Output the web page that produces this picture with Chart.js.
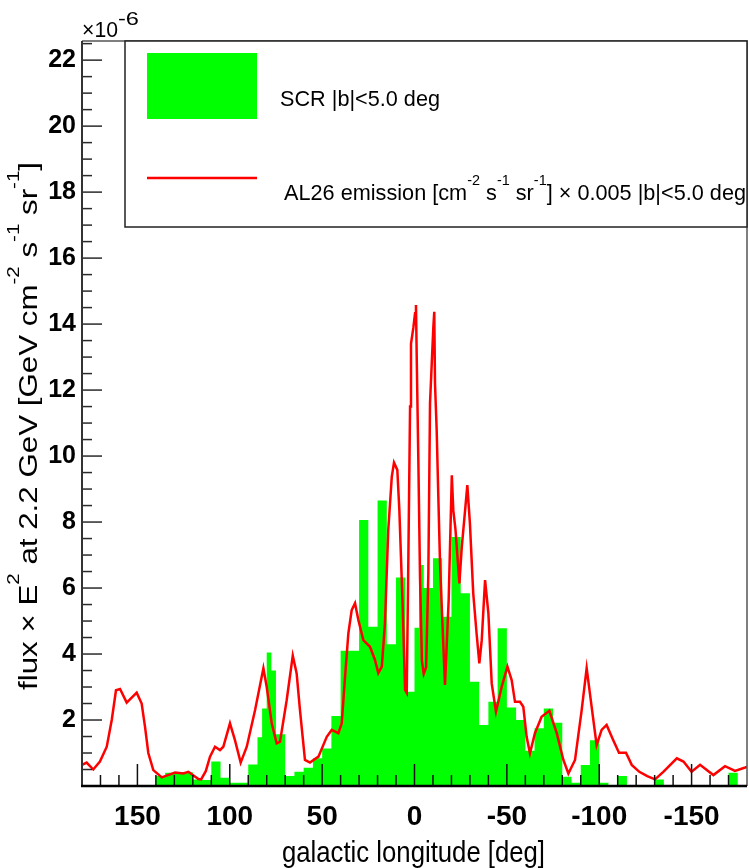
<!DOCTYPE html>
<html>
<head>
<meta charset="utf-8">
<script src="https://cdn.jsdelivr.net/npm/chart.js@4.4.4/dist/chart.umd.min.js"></script>
<style>
  html, body { margin: 0; padding: 0; background: #fff; }
  #wrap { width: 749px; height: 868px; }
</style>
</head>
<body>
<div id="wrap"><canvas id="chart" width="749" height="868"></canvas></div>
<script>
// --- data -------------------------------------------------------------------

// AL26 emission x 0.005, |b|<5 deg (fine profile, longitude in deg)
const LON_AL26 = [
  180, 177.5, 173.9, 170.3, 166.6, 163.9, 161.6, 159.4, 155.8, 150.4,
  147.7, 145.9, 144.1, 141.4, 136.8, 129.6, 125.2, 122.4, 117, 115.5,
  113, 110.7, 108, 105.3, 103.5, 99.9, 97.2, 94.1, 90.8, 86.3,
  81.8, 80, 77.3, 74.6, 72.8, 69.2, 65.9, 63.8, 62, 59.3,
  56.6, 52, 47.5, 44.8, 41.2, 39.4, 37.6, 35.8, 34, 32.2,
  30.4, 27.7, 24.1, 21.4, 19.6, 17.7, 16, 14.2, 12.3, 11.1,
  9.3, 8.2, 6.4, 5.1, 4.2, 3.3, 2.4, 1.9, 0.6, -0.3,
  -0.8, -1.2, -2.1, -3.0, -4.0, -5.0, -6.3, -7.5, -8.4, -9.3,
  -10.2, -10.7, -11.1, -12.0, -12.9, -13.8, -14.7, -16.5, -18.5, -20.2,
  -21, -22.2, -24.3, -25.6, -27.4, -28.6, -30, -31.8, -33.6, -35.1,
  -36.4, -38.2, -40, -41.8, -44.1, -47.2, -50.3, -52.6, -54.4, -57.1,
  -58.9, -60.7, -62.5, -65.2, -68.8, -73, -77, -80.6, -83.3, -86.9,
  -90.5, -93.2, -95.9, -98.6, -101.3, -104, -107.6, -110.7, -114.5, -117.6,
  -121.7, -126, -130.2, -134.7, -142, -145.6, -150, -154.6, -161.8, -168.1,
  -173.5, -179, -180
];
const FLUX_AL26 = [
  0.64, 0.71, 0.5, 0.74, 1.19, 2.0, 2.9, 2.94, 2.53, 2.83,
  2.5, 1.8, 1.0, 0.48, 0.26, 0.41, 0.38, 0.43, 0.21, 0.2,
  0.45, 0.89, 1.19, 1.09, 1.19, 1.9, 1.39, 0.71, 1.19, 2.3,
  3.57, 3.0, 1.9, 1.29, 1.34, 2.6, 3.95, 3.41, 2.3, 0.79,
  0.71, 0.89, 1.49, 1.7, 1.6, 1.9, 3.31, 4.63, 5.33, 5.54,
  5.03, 4.42, 4.22, 3.82, 3.42, 3.62, 4.93, 7.76, 9.37, 9.8,
  9.58, 8.36, 5.43, 2.91, 2.82, 7.0, 11.5, 13.4, 13.9, 14.33,
  14.58, 13.0, 9.8, 6.3, 3.8, 3.4, 3.6, 6.45, 11.6, 12.76,
  13.9, 14.37, 12.2, 10.8, 8.77, 6.8, 5.5, 3.06, 5.64, 9.42,
  8.36, 7.76, 6.14, 7.25, 8.36, 9.12, 7.96, 5.84, 4.63, 3.72,
  4.42, 6.24, 5.23, 3.11, 2.25, 3.01, 3.62, 3.21, 2.55, 2.55,
  2.4, 1.49, 0.99, 1.6, 2.1, 2.28, 1.6, 0.79, 0.38, 0.79,
  2.3, 3.57, 2.4, 1.24, 1.7, 1.85, 1.39, 1.01, 1.01, 0.64,
  0.43, 0.3, 0.2, 0.43, 0.84, 0.74, 0.43, 0.64, 0.33, 0.6,
  0.46, 0.56, 0.58
];

// SCR histogram: each bin runs from its edge down to the next edge
const SCR_EDGES = [
  180, 140, 135, 130, 125, 120, 115, 110, 105, 100,
  90, 85, 82.5, 80, 77.5, 75, 70, 65, 60, 55,
  50, 45, 40, 30, 25, 20, 15, 10, 5, 0,
  -2.5, -5, -10, -15, -20, -25, -30, -35, -40, -45,
  -50, -55, -60, -65, -70, -75, -80, -85, -90, -95,
  -100, -105, -110, -115, -130, -135, -170, -175, -180
];
const SCR_FLUX = [
  0, 0.3, 0.4, 0.42, 0.42, 0.2, 0.18, 0.74, 0.25, 0.1,
  0.65, 1.48, 2.35, 4.05, 3.5, 1.57, 0.3, 0.43, 0.55, 0.84,
  1.14, 2.12, 4.1, 8.06, 4.83, 8.65, 4.3, 6.32, 2.86, 4.8,
  6.7, 6.0, 6.9, 5.13, 7.55, 5.84, 3.16, 1.85, 2.55, 4.78,
  2.38, 2.0, 1.07, 1.75, 2.35, 1.92, 0.28, 0.1, 0.64, 1.39,
  0.1, 0, 0.3, 0, 0.2, 0, 0.4, 0, 0
];

const X_TICKS = [150, 100, 50, 0, -50, -100, -150];
const Y_TICKS = [2, 4, 6, 8, 10, 12, 14, 16, 18, 20, 22];
const X_MIN = -180, X_MAX = 180;
const Y_MIN = 0, Y_MAX = 22.58;

const GREEN = '#00ff00';
const RED = '#ff0000';
const FONT = "'Liberation Sans', Arial, Helvetica, sans-serif";

// --- rich text (plain pieces + superscripts given as one-element arrays) ----

function segFont(sup, size) {
  return (sup ? Math.round(size * 0.66) : size) + 'px ' + FONT;
}

function richWidth(ctx, segs, size) {
  let w = 0;
  segs.forEach(s => {
    const sup = Array.isArray(s);
    ctx.font = segFont(sup, size);
    w += ctx.measureText(sup ? s[0] : s).width;
  });
  return w;
}

// draws at (x, y) baseline-left in current transform; fitW stretches to a width
function drawRich(ctx, segs, x, y, size, fitW, yScale) {
  const w = richWidth(ctx, segs, size);
  const sx = fitW ? fitW / w : 1;
  ctx.save();
  ctx.translate(x, y);
  ctx.scale(sx, yScale || 1);
  ctx.textBaseline = 'alphabetic';
  ctx.textAlign = 'left';
  ctx.fillStyle = '#000';
  let cx = 0;
  segs.forEach(s => {
    const sup = Array.isArray(s);
    const t = sup ? s[0] : s;
    ctx.font = segFont(sup, size);
    ctx.fillText(t, cx, sup ? -size * 0.68 : 0);
    cx += ctx.measureText(t).width;
  });
  ctx.restore();
}

// --- frame, inner ticks, legend and titles ----------------------------------

const rootFrame = {
  id: 'rootFrame',
  afterDatasetsDraw(chart) {
    const { ctx, chartArea: a, scales: { x, y } } = chart;
    ctx.save();
    ctx.lineCap = 'butt';

    // y ticks every 0.5, major every 2
    ctx.strokeStyle = '#2a2a2a';
    ctx.lineWidth = 1.5;
    for (let k = 1; k <= 45; k++) {
      const py = y.getPixelForValue(k * 0.5);
      if (py < a.top) break;
      const len = k % 4 === 0 ? 20 : 10;
      ctx.beginPath();
      ctx.moveTo(a.left, py);
      ctx.lineTo(a.left + len, py);
      ctx.stroke();
    }

    // x ticks every 10 deg, major every 50
    ctx.strokeStyle = '#111';
    for (let d = -170; d <= 170; d += 10) {
      const px = x.getPixelForValue(d);
      const len = d % 50 === 0 ? 22 : 11;
      ctx.beginPath();
      ctx.moveTo(px, a.bottom);
      ctx.lineTo(px, a.bottom - len);
      ctx.stroke();
    }

    // frame: thin top/right, heavier axes
    ctx.strokeStyle = '#555';
    ctx.lineWidth = 1.5;
    ctx.beginPath();
    ctx.moveTo(a.left, a.top);
    ctx.lineTo(a.right, a.top);
    ctx.lineTo(a.right, a.bottom);
    ctx.stroke();

    ctx.strokeStyle = '#333';
    ctx.lineWidth = 2;
    ctx.beginPath();
    ctx.moveTo(a.left, a.top);
    ctx.lineTo(a.left, a.bottom);
    ctx.stroke();

    ctx.strokeStyle = '#000';
    ctx.lineWidth = 2.5;
    ctx.beginPath();
    ctx.moveTo(a.left - 1, a.bottom);
    ctx.lineTo(a.right, a.bottom);
    ctx.stroke();
    ctx.restore();
  },
  afterDraw(chart) {
    const { ctx, chartArea: a } = chart;
    ctx.save();

    // legend box
    const lx = 125, ly = a.top, lr = a.right, lb = 227;
    ctx.fillStyle = '#fff';
    ctx.fillRect(lx, ly, lr - lx, lb - ly);
    ctx.strokeStyle = '#222';
    ctx.lineWidth = 1.5;
    ctx.strokeRect(lx, ly, lr - lx, lb - ly);

    ctx.fillStyle = GREEN;
    ctx.fillRect(147, 53, 110, 66);
    ctx.strokeStyle = RED;
    ctx.lineWidth = 2.5;
    ctx.beginPath();
    ctx.moveTo(147, 178);
    ctx.lineTo(257, 178);
    ctx.stroke();

    drawRich(ctx, ['SCR |b|<5.0 deg'], 280, 106, 21, 160, 1.05);
    drawRich(ctx, ['AL26 emission [cm', ['-2'], ' s', ['-1'], ' sr', ['-1'],
      '] \u00d7 0.005 |b|<5.0 deg'], 284, 200, 21, 462, 1.05);

    // exponent above the y axis
    drawRich(ctx, ['\u00d710'], 82, 37, 21, 36, 1.05);
    drawRich(ctx, ['-6'], 118, 25, 17, 21, 1.05);

    // axis titles
    const xt = ['galactic longitude [deg]'];
    drawRich(ctx, xt, 282, 862, 26, 263, 1.15);

    ctx.translate(37, 426);
    ctx.rotate(-Math.PI / 2);
    const yt = ['flux \u00d7 E', ['2'], ' at 2.2 GeV [GeV cm', ['-2'], ' s', ['-1'], ' sr', ['-1'], ']'];
    drawRich(ctx, yt, -264, 0, 26, 528, 1.0);
    ctx.restore();
  }
};

// --- chart ------------------------------------------------------------------

const al26Points = LON_AL26.map((l, i) => ({ x: l, y: FLUX_AL26[i] }));
const scrPoints = SCR_EDGES.map((l, i) => ({ x: l, y: SCR_FLUX[i] }));

new Chart(document.getElementById('chart'), {
  type: 'line',
  data: {
    datasets: [
      {
        label: 'AL26 emission',
        data: al26Points,
        borderColor: RED,
        borderWidth: 2.5,
        pointRadius: 0,
        tension: 0,
        fill: false
      },
      {
        label: 'SCR',
        data: scrPoints,
        borderColor: 'rgba(0,0,0,0)',
        borderWidth: 1,
        backgroundColor: GREEN,
        pointRadius: 0,
        stepped: 'before',
        fill: 'origin'
      }
    ]
  },
  options: {
    responsive: false,
    devicePixelRatio: 1,
    animation: false,
    layout: { padding: { top: 41, right: 2, left: 0, bottom: 0 } },
    plugins: { legend: { display: false }, tooltip: { enabled: false } },
    scales: {
      x: {
        type: 'linear',
        reverse: true,
        min: X_MIN,
        max: X_MAX,
        grid: { display: false, drawTicks: false },
        border: { display: false },
        afterBuildTicks: s => { s.ticks = X_TICKS.map(v => ({ value: v })); },
        afterFit: s => { s.height = 82; },
        ticks: {
          color: '#000',
          padding: 14,
          maxRotation: 0,
          autoSkip: false,
          font: { family: FONT, size: 28, weight: 'bold' }
        }
      },
      y: {
        min: Y_MIN,
        max: Y_MAX,
        grid: { display: false, drawTicks: false },
        border: { display: false },
        afterBuildTicks: s => { s.ticks = Y_TICKS.map(v => ({ value: v })); },
        afterFit: s => { s.width = 82; },
        ticks: {
          color: '#000',
          padding: 6,
          font: { family: FONT, size: 25, weight: 'bold' }
        }
      }
    }
  },
  plugins: [rootFrame]
});
</script>
</body>
</html>
